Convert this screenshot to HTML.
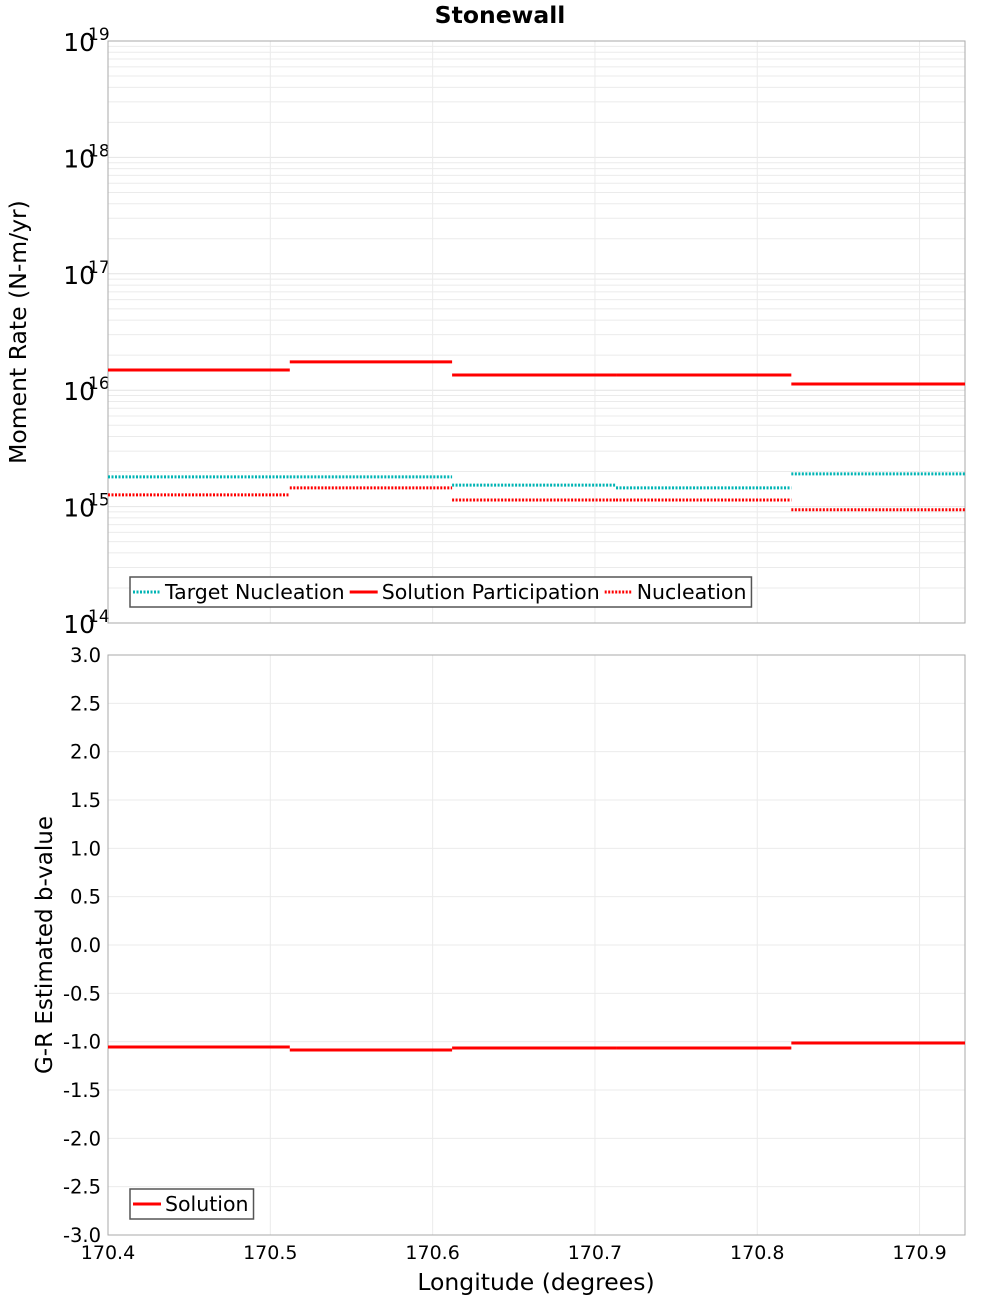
<!DOCTYPE html>
<html><head><meta charset="utf-8"><style>
body{margin:0;background:#fff;font-family:"DejaVu Sans","Liberation Sans",sans-serif;}
svg text{font-family:"DejaVu Sans","Liberation Sans",sans-serif;}
</style></head><body>
<svg id="c" width="1000" height="1300" xmlns="http://www.w3.org/2000/svg">
<text x="500" y="23" text-anchor="middle" font-size="23.5" font-weight="bold">Stonewall</text>
<text transform="translate(26,332) rotate(-90)" text-anchor="middle" font-size="23.5">Moment Rate (N-m/yr)</text>
<text transform="translate(52,945) rotate(-90)" text-anchor="middle" font-size="23">G-R Estimated b-value</text>
<text x="536" y="1290" text-anchor="middle" font-size="23.5">Longitude (degrees)</text>
</svg>
<script>
const edges=[170.4,170.512,170.612,170.713,170.821,170.928];
const solPart=[1.49e16,1.75e16,1.35e16,1.35e16,1.13e16];
const targetNuc=[1.80e15,1.80e15,1.53e15,1.45e15,1.91e15];
const nucleation=[1.26e15,1.45e15,1.14e15,1.14e15,0.94e15];
const bValues=[-1.055,-1.086,-1.065,-1.065,-1.014];
const xTicks=[170.4,170.5,170.6,170.7,170.8,170.9];
const logTicks=[14,15,16,17,18,19];
const bTicks=[-3,-2.5,-2,-1.5,-1,-0.5,0,0.5,1,1.5,2,2.5,3];

const svg=document.getElementById('c');
const NS='http://www.w3.org/2000/svg';
const L=108,R=965,T1=41,B1=623,T2=655,B2=1235;
const xs=v=>L+(v-170.4)/(170.928-170.4)*(R-L);
const ys1=v=>T1+(19-Math.log10(v))/5*(B1-T1);
const ys2=v=>T2+(3-v)/6*(B2-T2);
function mk(tag,a,txt){const e=document.createElementNS(NS,tag);for(const k in a)e.setAttribute(k,a[k]);if(txt!==undefined)e.textContent=txt;svg.appendChild(e);return e;}

for(let d=14;d<19;d++)for(let m=2;m<=9;m++){const y=ys1(m*Math.pow(10,d));
const g=mk('line',{x1:L,x2:R,y1:y,y2:y,stroke:'#ebebeb','stroke-width':1});

}
logTicks.forEach(t=>{const y=ys1(Math.pow(10,t));
const g=mk('line',{x1:L,x2:R,y1:y,y2:y,stroke:'#e4e4e4','stroke-width':1});


const tx=mk('text',{x:95,y:y+10,'text-anchor':'end','font-size':25},'10');


const ex=mk('text',{x:88,y:y-1,'font-size':17},String(t));

});
bTicks.forEach(t=>{const y=ys2(t);
const g=mk('line',{x1:L,x2:R,y1:y,y2:y,stroke:'#ebebeb','stroke-width':1});


const tx=mk('text',{x:101,y:y+7,'text-anchor':'end','font-size':19.5},t.toFixed(1));

});
xTicks.forEach(t=>{const x=xs(t);
[[T1,B1],[T2,B2]].forEach(p=>{const g=mk('line',{x1:x,x2:x,y1:p[0],y2:p[1],stroke:'#ebebeb','stroke-width':1});

});
const tx=mk('text',{x:x,y:1259,'text-anchor':'middle','font-size':19},t.toFixed(1));

});

[[T1,B1],[T2,B2]].forEach(p=>{const r=mk('rect',{x:L,y:p[0],width:R-L,height:p[1]-p[0],fill:'none',stroke:'#aaa','stroke-width':1});

});

function steps(arr,sy,col,dash,name){arr.forEach((v,i)=>{const y=sy(v);
const a={x1:xs(edges[i]),x2:xs(edges[i+1]),y1:y,y2:y,stroke:col,'stroke-width':3};
if(dash)a['stroke-dasharray']='2,1.5';
const l=mk('line',a);

});}
steps(targetNuc,ys1,'#00b4b4',true,'target-nucleation');
steps(nucleation,ys1,'#ff0000',true,'nucleation');
steps(solPart,ys1,'#ff0000',false,'solution-participation');
steps(bValues,ys2,'#ff0000',false,'b-value');

function legend(x,y,items,name){const g=document.createElementNS(NS,'g');svg.appendChild(g);


const r=document.createElementNS(NS,'rect');
Object.entries({x:x,y:y,width:10,height:30,fill:'#fff',stroke:'#555','stroke-width':1.5}).forEach(([k,v])=>r.setAttribute(k,v));g.appendChild(r);
let cx=x+3;items.forEach(it=>{const l=document.createElementNS(NS,'line');
const a={x1:cx,x2:cx+28,y1:y+15,y2:y+15,stroke:it[1],'stroke-width':3};if(it[2])a['stroke-dasharray']='2,1.5';
Object.entries(a).forEach(([k,v])=>l.setAttribute(k,v));g.appendChild(l);
const t=document.createElementNS(NS,'text');t.setAttribute('x',cx+32);t.setAttribute('y',y+22);t.setAttribute('font-size',20.5);t.textContent=it[0];


g.appendChild(t);cx+=32+t.getComputedTextLength()+5;});
r.setAttribute('width',cx-x);}
legend(130,577,[['Target Nucleation','#00b4b4',true],['Solution Participation','#ff0000',false],['Nucleation','#ff0000',true]],'top-legend');
legend(130,1189,[['Solution','#ff0000',false]],'bottom-legend');
</script>
</body></html>
